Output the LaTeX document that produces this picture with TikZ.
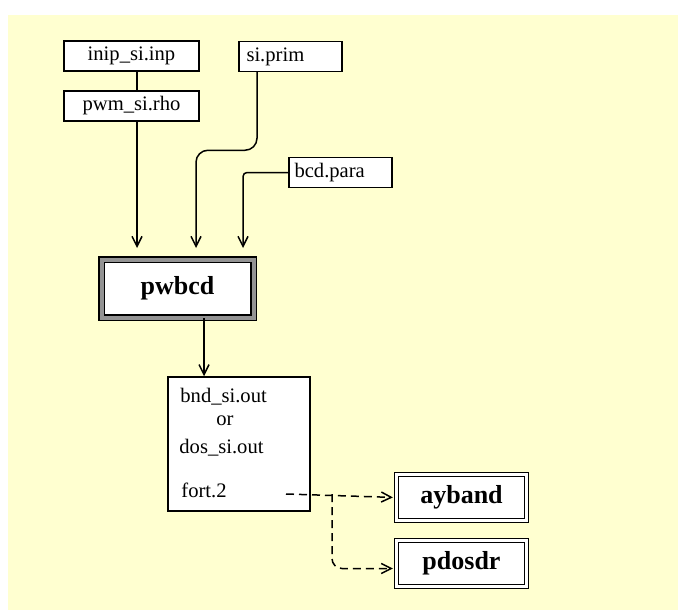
\documentclass[tikz,border=0pt]{standalone}
\usepackage{fontspec}
\setmainfont{Liberation Serif}
\usepackage{tikz}
\usetikzlibrary{positioning, arrows.meta}
\definecolor{paper}{RGB}{255,255,208}
\tikzset{
    flow/.style={->, line width=0.75pt}, % solid data flow
    dflow/.style={->, line width=0.75pt, dash pattern=on 4pt off 2.5pt}, % dashed flow to the plot programs
    >={Straight Barb[length=5pt, width=5pt]},
    }

\begin{document}
\begin{tikzpicture}[x=0.5pt, y=-0.5pt,
    filebox/.style={draw, line width=0.75pt, fill=white, minimum height=15pt, inner sep=0pt, font=\fontsize{10.3}{12}\selectfont},
    progbox/.style={draw, line width=0.6pt, double=gray!85, double distance=2pt, fill=white, minimum width=76pt, minimum height=29pt, font=\fontsize{13}{15}\selectfont\bfseries},
    plotbox/.style={draw, line width=0.6pt, double=white, double distance=1.2pt, fill=white, minimum width=65pt, minimum height=23pt, font=\fontsize{13}{15}\selectfont\bfseries},
    outtext/.style={anchor=west, inner sep=0pt, font=\fontsize{10.3}{12}\selectfont}]
\useasboundingbox (0,0) rectangle (678,610);
\fill[paper] (8,15) rectangle (678,610);

\node[filebox, minimum width=67.5pt] (inip) at (131.5,56) {inip\_si.inp};
\node[filebox, minimum width=67.5pt] (pwm) at (131.5,106) {pwm\_si.rho};
\node[filebox, minimum width=51.5pt, text width=44pt, align=left] (siprim) at (290.5,56.5) {si.prim};
\node[filebox, minimum width=51.5pt, text width=46pt, align=left] (bcd) at (340.5,172.5) {bcd.para};
\node[progbox] (pwbcd) at (177.5,288.5) {pwbcd};
\node[draw, line width=0.75pt, fill=white, minimum width=71pt, minimum height=67pt] (bnd) at (239,444) {};
\node[outtext] (bndout) at (180,397) {bnd\_si.out};
\node[outtext, anchor=center] (or) at (225,421) {or};
\node[outtext] (dosout) at (179,448) {dos\_si.out};
\node[outtext] (fort) at (181,490) {fort.2};
\node[plotbox] (ayband) at (461.5,497.5) {ayband};
\node[plotbox] (pdosdr) at (461.5,563.5) {pdosdr};

\coordinate (ina) at (137,248);
\coordinate (inb) at (196,248);
\coordinate (inc) at (243,248);
\coordinate (outx) at (204,340);
\coordinate (fortout) at (286,494);
\coordinate (split) at (332,494);

\draw[line width=0.75pt] (inip.south -| ina) -- (pwm.north -| ina);
\draw[flow] (pwm.south -| ina) -- (ina);
\draw[flow, rounded corners=6pt] ([xshift=-16.75pt]siprim.south) -- ++(0,78) -| (inb);
\draw[flow, rounded corners=2pt] (bcd.west) -| (inc);
\draw[flow] (pwbcd.south -| outx) -- (bnd.north -| outx);
\draw[dflow, shorten >=1.5pt] (fortout) -- (ayband.west);
\draw[dflow, shorten >=1.5pt, rounded corners=5pt] (split) |- ([yshift=-2.5pt]pdosdr.west);
\end{tikzpicture}
\end{document}
